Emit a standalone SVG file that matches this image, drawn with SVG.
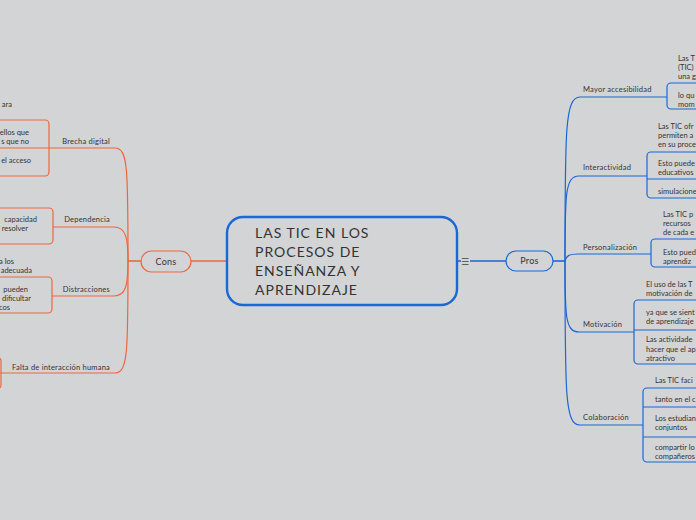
<svg xmlns="http://www.w3.org/2000/svg" width="696" height="520" viewBox="0 0 696 520">
<style>
.bg{fill:#d3d4d6}
.t{font-family:Lato,"Liberation Sans",sans-serif;font-size:7.5px;fill:#333}
.tl{font-family:Lato,"Liberation Sans",sans-serif;font-size:7.5px;fill:#333;text-anchor:end}
.lab{font-family:Lato,"Liberation Sans",sans-serif;font-size:7.5px;letter-spacing:0.22px;fill:#333}
.labl{font-family:Lato,"Liberation Sans",sans-serif;font-size:7.5px;letter-spacing:0.22px;fill:#333;text-anchor:end}
.o{fill:none;stroke:#f0663c;stroke-width:1.2}
.b{fill:none;stroke:#1a67d6;stroke-width:1.2}
.ob{fill:none;stroke:#f0663c;stroke-width:1.2}
.bb{fill:none;stroke:#1a67d6;stroke-width:1.2}
.main{font-family:Lato,"Liberation Sans",sans-serif;font-size:14px;letter-spacing:1px;fill:#333}
.pill{font-family:Lato,"Liberation Sans",sans-serif;font-size:9px;letter-spacing:0.3px;fill:#333;text-anchor:middle}
</style>
<rect class="bg" x="0" y="0" width="696" height="520"/>

<g id="connectors">
  <line x1="227" y1="261" x2="191" y2="261" stroke="#f0663c" stroke-width="1.6"/>
  <line x1="141" y1="261" x2="128" y2="261" stroke="#f0663c" stroke-width="1.6"/>
  <path class="o" d="M128,261 C128,170 128,148 115,148 L49,148"/>
  <path class="o" d="M128,261 C128,238 126,227 114,227 L53,227"/>
  <path class="o" d="M128,261 C128,285 126,296 114,296 L52,296"/>
  <path class="o" d="M128,261 C128,350 128,373 115,373 L0,373"/>
  <line x1="457" y1="261" x2="461" y2="261" stroke="#1a67d6" stroke-width="1.6"/>
  <line x1="470" y1="261" x2="506" y2="261" stroke="#1a67d6" stroke-width="1.6"/>
  <line x1="553" y1="261" x2="565" y2="261" stroke="#1a67d6" stroke-width="1.6"/>
  <path class="b" d="M565,261 C565,130 565,97 580,97 L667,97"/>
  <path class="b" d="M565,261 C565,195 565,176 579,176 L647,176"/>
  <path class="b" d="M565,261 C566,256 569,254 578,254 L651,254"/>
  <path class="b" d="M565,261 C565,315 565,332 579,332 L634,332"/>
  <path class="b" d="M565,261 C565,395 565,425 580,425 L643,425"/>
</g>

<g id="central">
  <rect x="227" y="217" width="230" height="88" rx="16" fill="none" stroke="#1a67d6" stroke-width="2.4"/>
  <text class="main" x="255" y="238">LAS TIC EN LOS</text>
  <text class="main" x="255" y="257">PROCESOS DE</text>
  <text class="main" x="255" y="276">ENSEÑANZA Y</text>
  <text class="main" x="255" y="295">APRENDIZAJE</text>
  <text x="465" y="264.5" font-family="'DejaVu Sans',sans-serif" font-size="9" fill="#444" text-anchor="middle">☰</text>
</g>

<g id="cons">
  <rect x="141" y="251" width="50" height="21" rx="10.5" fill="none" stroke="#f0663c" stroke-width="1.2"/>
  <text class="pill" x="166" y="264.5">Cons</text>
</g>

<g id="pros">
  <rect x="506" y="251" width="47" height="20" rx="10" fill="none" stroke="#1a67d6" stroke-width="1.2"/>
  <text class="pill" x="529.5" y="264">Pros</text>
</g>

<g id="brecha">
  <text class="labl" x="110" y="143.5">Brecha digital</text>
  <text class="tl" x="12" y="106.5">ara</text>
  <rect class="ob" x="-60" y="120" width="109" height="56" rx="4"/>
  <line class="ob" x1="0" y1="148" x2="49" y2="148"/>
  <text class="tl" x="29" y="134.5">ellos que</text>
  <text class="tl" x="29" y="143.5">s que no</text>
  <text class="tl" x="31" y="162.5">el acceso</text>
</g>

<g id="dependencia">
  <text class="labl" x="110" y="221.5">Dependencia</text>
  <rect class="ob" x="-60" y="208" width="113" height="36" rx="4"/>
  <text class="tl" x="37" y="221.5">capacidad</text>
  <text class="tl" x="28" y="230.5">resolver</text>
</g>

<g id="distracciones">
  <text class="labl" x="110" y="291.5">Distracciones</text>
  <text class="tl" x="14" y="263.5">a los</text>
  <text class="tl" x="32" y="272.5">adecuada</text>
  <rect class="ob" x="-60" y="277" width="112" height="36" rx="4"/>
  <text class="tl" x="28" y="291.5">pueden</text>
  <text class="tl" x="31" y="300.5">dificultar</text>
  <text class="tl" x="10" y="309.5">cos</text>
</g>

<g id="falta">
  <text class="labl" x="110" y="369.5">Falta de interacción humana</text>
  <rect class="ob" x="-60" y="357" width="61" height="32" rx="4"/>
</g>

<g id="accesibilidad">
  <text class="lab" x="583" y="92">Mayor accesibilidad</text>
  <text class="t" x="678" y="60.5">Las T</text>
  <text class="t" x="678" y="69.5">(TIC)</text>
  <text class="t" x="678" y="78.5">una g</text>
  <rect class="bb" x="667" y="83" width="60" height="26" rx="4"/>
  <text class="t" x="678" y="97.5">lo qu</text>
  <text class="t" x="678" y="106.5">mom</text>
</g>

<g id="interactividad">
  <text class="lab" x="583" y="169.5">Interactividad</text>
  <text class="t" x="658" y="128.5">Las TIC ofr</text>
  <text class="t" x="658" y="137.5">permiten a</text>
  <text class="t" x="658" y="146.5">en su proce</text>
  <rect class="bb" x="647" y="152" width="70" height="46" rx="4"/>
  <line class="bb" x1="647" y1="179" x2="696" y2="179"/>
  <text class="t" x="658" y="165.5">Esto puede</text>
  <text class="t" x="658" y="174.5">educativos</text>
  <text class="t" x="658" y="193.5">simulacione</text>
</g>

<g id="personalizacion">
  <text class="lab" x="583" y="249.5">Personalización</text>
  <text class="t" x="663" y="216.5">Las TIC p</text>
  <text class="t" x="663" y="225.5">recursos</text>
  <text class="t" x="663" y="234.5">de cada e</text>
  <rect class="bb" x="651" y="239" width="70" height="28" rx="4"/>
  <text class="t" x="663" y="254.5">Esto pued</text>
  <text class="t" x="663" y="263.5">aprendiz</text>
</g>

<g id="motivacion">
  <text class="lab" x="583" y="326.5">Motivación</text>
  <text class="t" x="646" y="286.5">El uso de las T</text>
  <text class="t" x="646" y="295.5">motivación de</text>
  <rect class="bb" x="634" y="300" width="80" height="64" rx="4"/>
  <line class="bb" x1="634" y1="330" x2="696" y2="330"/>
  <text class="t" x="646" y="314.5">ya que se sient</text>
  <text class="t" x="646" y="323.5">de aprendizaje</text>
  <text class="t" x="646" y="341.5">Las actividade</text>
  <text class="t" x="646" y="351.5">hacer que el ap</text>
  <text class="t" x="646" y="360.5">atractivo</text>
</g>

<g id="colaboracion">
  <text class="lab" x="583" y="419.5">Colaboración</text>
  <text class="t" x="655" y="382.5">Las TIC faci</text>
  <rect class="bb" x="643" y="388" width="70" height="74" rx="4"/>
  <line class="bb" x1="643" y1="407" x2="696" y2="407"/>
  <line class="bb" x1="643" y1="437" x2="696" y2="437"/>
  <text class="t" x="655" y="401.5">tanto en el c</text>
  <text class="t" x="655" y="420.5">Los estudian</text>
  <text class="t" x="655" y="429.5">conjuntos</text>
  <text class="t" x="655" y="449.5">compartir lo</text>
  <text class="t" x="655" y="458.5">compañeros</text>
</g>
</svg>
